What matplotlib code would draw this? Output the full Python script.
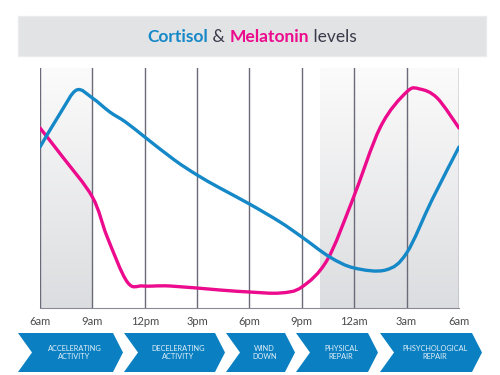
import numpy as np
import matplotlib
matplotlib.use("Agg")
import matplotlib.pyplot as plt
from matplotlib.path import Path
from matplotlib.patches import PathPatch, Polygon, Rectangle
from matplotlib.colors import LinearSegmentedColormap

# hours after 6am, levels (arbitrary units, 0..240)
cortisol_hours = [0, 1.2, 2.1, 3.0, 4.0, 4.9, 6.0, 7.7, 9.0, 10.3, 12.0, 13.75, 15.0, 16.6, 18.0, 19.8, 21.0, 22.45, 24.0]
cortisol_level = [161, 196, 218, 210, 196, 186, 171, 148, 133, 120, 104, 86, 71, 51, 40, 38, 55, 108, 161]
melatonin_hours = [0, 1.3, 3.0, 3.85, 5.0, 5.9, 7.45, 10.3, 12.0, 13.75, 15.0, 16.45, 17.9, 19.5, 21.0, 21.75, 22.75, 24.0]
melatonin_level = [180, 151, 111, 71, 26, 22, 22, 18, 16, 15, 21, 48, 108, 181, 216, 219, 210, 180]

tick_labels = ["6am", "9am", "12pm", "3pm", "6pm", "9pm", "12am", "3am", "6am"]
shaded_spans = [(0, 3), (16.05, 24)]
phases = ["ACCELERATING\nACTIVITY", "DECELERATING\nACTIVITY", "WIND\nDOWN", "PHYSICAL\nREPAIR", "PHSYCHOLOGICAL\nREPAIR"]

BLUE = "#1588c8"
PINK = "#ec0a8d"
CHEV = "#0a80c2"
DARK = "#3a3a4a"


def smooth_path(xs, ys):
    # Catmull-Rom through the points, as cubic bezier segments
    p = np.column_stack([xs, ys]).astype(float)
    p = np.vstack([p[0], p, p[-1]])
    verts = [p[1]]
    codes = [Path.MOVETO]
    for i in range(1, len(p) - 2):
        c1 = p[i] + (p[i + 1] - p[i - 1]) / 6
        c2 = p[i + 1] - (p[i + 2] - p[i]) / 6
        verts += [c1, c2, p[i + 1]]
        codes += [Path.CURVE4] * 3
    return Path(verts, codes)


fig = plt.figure(figsize=(5, 3.75), dpi=100)
W, H = 500, 375


def fx(x):
    return x / W


def fy(y):
    return 1 - y / H


# title box
fig.patches.append(Rectangle((fx(18), fy(56)), fx(468), 40 / H, transform=fig.transFigure,
                             facecolor="#e2e3e5", edgecolor="#ebebed", lw=1))

ax = fig.add_axes([fx(40), fy(308), fx(419), 240 / H])
ax.set_xlim(0, 24)
ax.set_ylim(0, 240)

grad = np.linspace(1, 0, 100).reshape(-1, 1)
cmap = LinearSegmentedColormap.from_list("g", ["#dcdde0", "#fbfbfb"])
for a, b in shaded_spans:
    ax.imshow(grad, extent=(a, b, 0, 240), aspect="auto", cmap=cmap, origin="upper", zorder=0)

ax.set_xticks(range(0, 25, 3))
ax.set_xticklabels(tick_labels, fontfamily="Lato", fontsize=8, color="#4a4a4a")
ax.set_yticks([])
ax.tick_params(axis="x", length=0, pad=6)
ax.grid(axis="x", color="#6a6a78", lw=1)
for s in ["top", "left", "right"]:
    ax.spines[s].set_visible(False)
ax.spines["bottom"].set_color("#8a8a94")
ax.set_axisbelow(True)

ax.add_patch(PathPatch(smooth_path(melatonin_hours, melatonin_level), fill=False, edgecolor=PINK,
                       lw=2.4, capstyle="round", zorder=3))
ax.add_patch(PathPatch(smooth_path(cortisol_hours, cortisol_level), fill=False, edgecolor=BLUE,
                       lw=2.4, capstyle="round", zorder=4))

# title pieces
pieces = [("Cortisol", BLUE, "bold"), (" & ", DARK, "normal"), ("Melatonin", PINK, "bold"), (" levels", DARK, "normal")]
renderer = fig.canvas.get_renderer()
texts = []
total = 0
for s, c, w in pieces:
    t = fig.text(0, fy(37), s, color=c, fontweight=w, fontsize=12.5, fontfamily="Lato", va="center", ha="left")
    bb = t.get_window_extent(renderer)
    texts.append((t, bb.width))
    total += bb.width
x0 = 252 - total / 2
for t, wd in texts:
    t.set_x(fx(x0))
    x0 += wd

# phase chevrons
chev = [(18, 123), (124, 225), (226, 295), (296, 378), (380, 482)]
top, bot, notch = 333, 372, 14
for (l, r), label in zip(chev, phases):
    mid = (top + bot) / 2
    pts = [(l, top), (r - 10, top), (r, mid), (r - 10, bot), (l, bot), (l + notch, mid)]
    fig.patches.append(Polygon([(fx(a), fy(b)) for a, b in pts], closed=True, transform=fig.transFigure,
                               facecolor=CHEV, edgecolor="none"))
    cx = (l + notch + r - 6) / 2
    fig.text(fx(cx), fy(mid), label, color="#e3eff8", fontsize=5.3, fontfamily="Lato",
             ha="center", va="center", linespacing=1.3)

fig.savefig("out.png", dpi=100)
